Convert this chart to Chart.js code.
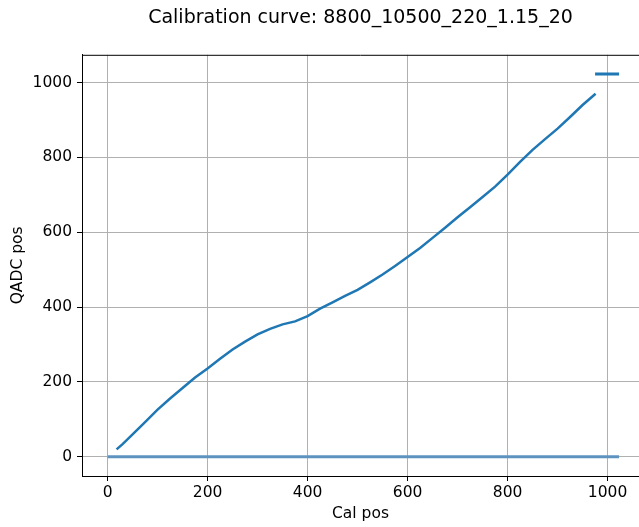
<!DOCTYPE html>
<html>
<head>
<meta charset="utf-8">
<script src="https://cdn.jsdelivr.net/npm/chart.js@4.4.1/dist/chart.umd.min.js"></script>
<style>
  body { margin: 0; background: #fff; }
  canvas { display: block; }
</style>
</head>
<body>
<canvas id="chart_cal" width="639" height="527"></canvas>
<script>
// calibration curve
const calPos = [18, 30, 50, 75, 100, 125, 150, 175, 200, 225, 250, 275, 300, 325, 350, 375, 400, 425, 450, 475,
    500, 525, 550, 575, 600, 625, 650, 675, 700, 725, 750, 775, 800, 825, 850, 875, 900, 925, 950, 976];
const qadcPos = [20, 34, 60, 93, 126, 156, 184, 212, 236, 262, 287, 308, 327, 342, 354, 362, 376, 396, 413, 430,
    446, 466, 487, 510, 534, 558, 585, 612, 640, 667, 694, 722, 754, 788, 820, 849, 877, 908, 940, 970];

// points stuck at zero and at saturation
const zeroX = [0, 1023];
const zeroY = [0, 0];
const satX = [975, 1023];
const satY = [1023, 1023];

const xTicks = [0, 200, 400, 600, 800, 1000];
const yTicks = [0, 200, 400, 600, 800, 1000];

const toPoints = (xs, ys) => xs.map((x, i) => ({ x: x, y: ys[i] }));

Chart.defaults.font.family = "'DejaVu Sans', sans-serif";
Chart.defaults.color = "#000";

const topSpine = {
    id: "topSpine",
    afterDraw(chart) {
        const { ctx, chartArea } = chart;
        ctx.save();
        ctx.strokeStyle = "#000";
        ctx.lineWidth = 1;
        ctx.beginPath();
        ctx.moveTo(chartArea.left, chartArea.top + 0.5);
        ctx.lineTo(chartArea.right, chartArea.top + 0.5);
        ctx.stroke();
        ctx.restore();
    },
};

const $chart_cal = document.getElementById("chart_cal");

new Chart($chart_cal, {
    type: "scatter",
    data: {
        datasets: [
            {
                data: toPoints(zeroX, zeroY),
                showLine: true,
                borderColor: "#5e93c0",
                borderWidth: 3,
                pointRadius: 0,
            },
            {
                data: toPoints(calPos, qadcPos),
                showLine: true,
                borderColor: "#1f77b4",
                backgroundColor: "#1f77b4",
                borderWidth: 2.5,
                pointRadius: 0,
            },
            {
                data: toPoints(satX, satY),
                showLine: true,
                borderColor: "#1f77b4",
                borderWidth: 3,
                pointRadius: 0,
            },
        ],
    },
    options: {
        responsive: false,
        animation: false,
        layout: { padding: 0 },
        plugins: {
            legend: { display: false },
            tooltip: { enabled: false },
            title: {
                display: true,
                text: "Calibration curve: 8800_10500_220_1.15_20",
                fullSize: false,
                font: { size: 19, weight: "normal" },
                color: "#000",
                padding: { top: 7, bottom: 25 },
            },
        },
        scales: {
            x: {
                type: "linear",
                min: -51.15,
                max: 1062.85,
                afterBuildTicks: (scale) => {
                    scale.ticks = xTicks.map((v) => ({ value: v }));
                },
                afterFit: (scale) => {
                    scale.height = 51;
                },
                ticks: { font: { size: 15.5 }, padding: 3, maxRotation: 0, callback: (v) => String(v) },
                grid: { color: "#b0b0b0", lineWidth: 1, tickColor: "#000", tickLength: 5 },
                border: { color: "#000", width: 1 },
                title: {
                    display: true,
                    text: "Cal pos",
                    font: { size: 15.5 },
                    padding: { top: 0, bottom: 4 },
                },
            },
            y: {
                type: "linear",
                min: -51.15,
                max: 1074.15,
                afterBuildTicks: (scale) => {
                    scale.ticks = yTicks.map((v) => ({ value: v }));
                },
                afterFit: (scale) => {
                    scale.width = 82;
                },
                ticks: { font: { size: 15.5 }, padding: 5, callback: (v) => String(v) },
                grid: { color: "#b0b0b0", lineWidth: 1, tickColor: "#000", tickLength: 5 },
                border: { color: "#000", width: 1 },
                title: {
                    display: true,
                    text: "QADC pos",
                    font: { size: 15.5 },
                    padding: { top: 9, bottom: 0 },
                },
            },
        },
    },
    plugins: [topSpine],
});
</script>
</body>
</html>
